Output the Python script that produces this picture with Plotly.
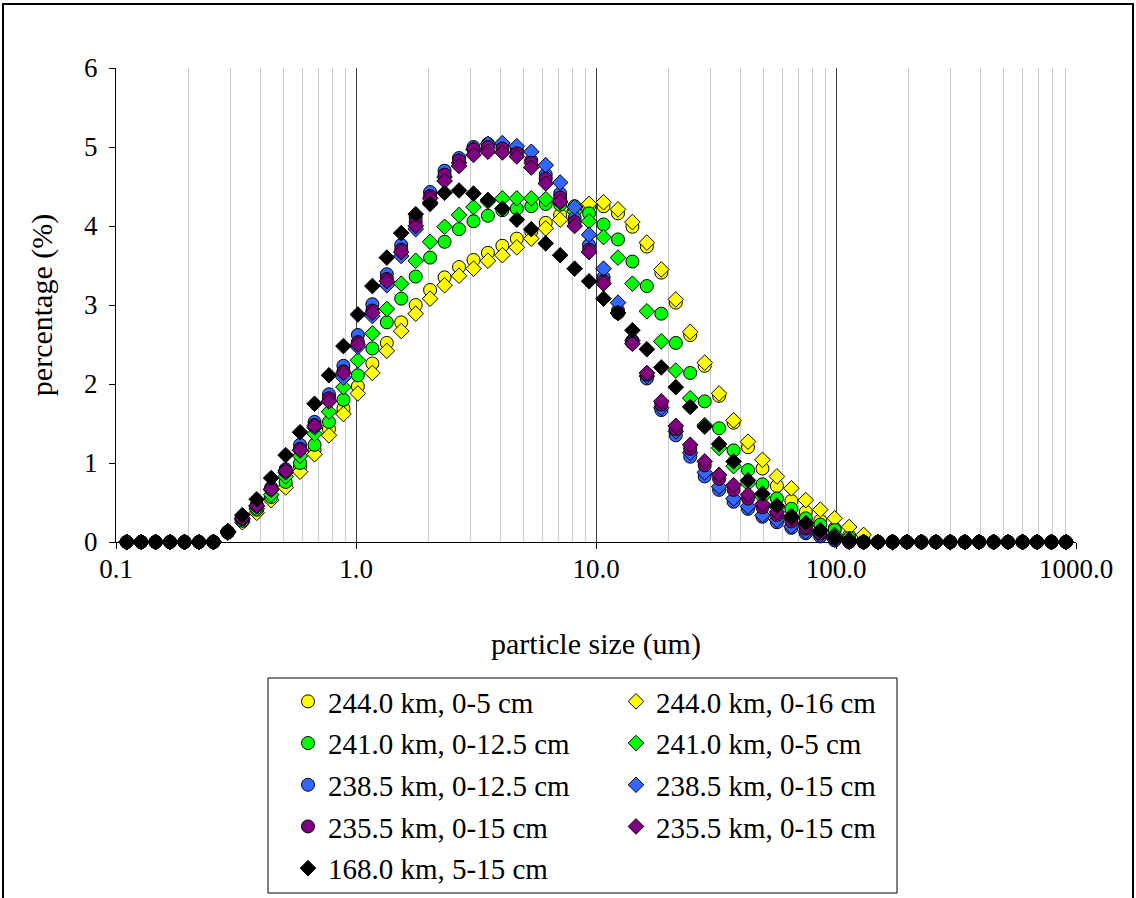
import plotly.graph_objects as go

# particle size bins (um)
sizes_um = [0.1108, 0.1273, 0.1462, 0.1679, 0.1929, 0.2216, 0.2546, 0.2924, 0.3359, 0.3858,
            0.4432, 0.5091, 0.5848, 0.6718, 0.7716, 0.8864, 1.018, 1.170, 1.344, 1.543,
            1.773, 2.036, 2.339, 2.687, 3.087, 3.546, 4.073, 4.678, 5.374, 6.173,
            7.091, 8.146, 9.357, 10.75, 12.35, 14.18, 16.29, 18.71, 21.50, 24.69,
            28.37, 32.58, 37.43, 42.99, 49.39, 56.73, 65.17, 74.86, 85.99, 98.77,
            113.5, 130.3, 149.7, 172.0, 197.5, 226.9, 260.7, 299.4, 343.9, 395.1,
            453.8, 521.3, 598.9, 687.9, 790.2, 907.7]

Z7 = [0, 0, 0, 0, 0, 0, 0]
Z14 = [0] * 14

y_244_5 = Z7 + [0.12, 0.26, 0.39, 0.55, 0.72, 0.95, 1.17, 1.43, 1.69, 1.97,
                2.26, 2.52, 2.78, 3.00, 3.19, 3.35, 3.48, 3.57, 3.66, 3.75,
                3.84, 3.93, 4.04, 4.14, 4.21, 4.25, 4.25, 4.16, 3.99, 3.74,
                3.41, 3.03, 2.62, 2.23, 1.85, 1.51, 1.20, 0.93, 0.71, 0.52,
                0.38, 0.27, 0.17, 0.08, 0.02] + Z14
y_244_16 = Z7 + [0.12, 0.25, 0.37, 0.53, 0.69, 0.89, 1.11, 1.35, 1.62, 1.88,
                 2.14, 2.42, 2.67, 2.89, 3.08, 3.25, 3.37, 3.46, 3.56, 3.63,
                 3.73, 3.84, 3.97, 4.08, 4.20, 4.28, 4.30, 4.21, 4.05, 3.79,
                 3.45, 3.07, 2.66, 2.27, 1.88, 1.54, 1.27, 1.04, 0.83, 0.68,
                 0.53, 0.41, 0.30, 0.19, 0.09] + Z14
y_241_125 = Z7 + [0.12, 0.27, 0.41, 0.57, 0.76, 1.00, 1.23, 1.52, 1.80, 2.11,
                  2.45, 2.78, 3.08, 3.36, 3.60, 3.80, 3.96, 4.06, 4.13, 4.20,
                  4.22, 4.25, 4.28, 4.27, 4.25, 4.16, 4.02, 3.83, 3.55, 3.24,
                  2.89, 2.52, 2.14, 1.78, 1.44, 1.16, 0.91, 0.73, 0.55, 0.42,
                  0.30, 0.22, 0.15, 0.05, 0.00] + Z14
y_241_5 = Z7 + [0.12, 0.28, 0.42, 0.60, 0.83, 1.09, 1.37, 1.65, 1.96, 2.30,
                2.64, 2.95, 3.27, 3.56, 3.80, 3.99, 4.14, 4.24, 4.31, 4.35,
                4.35, 4.35, 4.34, 4.30, 4.18, 4.06, 3.86, 3.60, 3.27, 2.92,
                2.54, 2.17, 1.82, 1.48, 1.19, 0.96, 0.74, 0.57, 0.44, 0.33,
                0.23, 0.15, 0.09, 0.03, 0.00] + Z14
y_2385_125 = Z7 + [0.13, 0.31, 0.47, 0.69, 0.92, 1.23, 1.52, 1.87, 2.23, 2.62,
                   3.01, 3.39, 3.76, 4.11, 4.43, 4.70, 4.86, 5.00, 5.04, 5.03,
                   4.96, 4.83, 4.65, 4.41, 4.10, 3.76, 3.35, 2.93, 2.55, 2.07,
                   1.67, 1.35, 1.08, 0.83, 0.66, 0.51, 0.42, 0.32, 0.25, 0.18,
                   0.11, 0.07, 0.02, 0.00, 0.00] + Z14
y_2385_15 = Z7 + [0.13, 0.30, 0.45, 0.66, 0.88, 1.16, 1.45, 1.78, 2.08, 2.47,
                  2.86, 3.25, 3.62, 3.96, 4.30, 4.62, 4.80, 4.97, 5.04, 5.05,
                  5.01, 4.94, 4.77, 4.55, 4.24, 3.89, 3.46, 3.03, 2.55, 2.10,
                  1.70, 1.40, 1.13, 0.88, 0.70, 0.55, 0.45, 0.34, 0.28, 0.20,
                  0.13, 0.09, 0.03, 0.00, 0.00] + Z14
y_2355_15a = Z7 + [0.13, 0.30, 0.46, 0.67, 0.90, 1.18, 1.48, 1.82, 2.16, 2.53,
                   2.93, 3.33, 3.70, 4.05, 4.38, 4.65, 4.83, 4.97, 5.00, 4.98,
                   4.92, 4.80, 4.60, 4.36, 4.05, 3.70, 3.30, 2.90, 2.52, 2.12,
                   1.74, 1.43, 1.18, 0.97, 0.80, 0.66, 0.55, 0.44, 0.34, 0.26,
                   0.17, 0.11, 0.05, 0.00, 0.00] + Z14
y_2355_15b = Z7 + [0.13, 0.30, 0.46, 0.67, 0.90, 1.16, 1.47, 1.78, 2.14, 2.50,
                   2.90, 3.30, 3.67, 4.00, 4.35, 4.57, 4.76, 4.90, 4.94, 4.93,
                   4.88, 4.74, 4.54, 4.31, 4.00, 3.67, 3.27, 2.90, 2.51, 2.14,
                   1.78, 1.47, 1.23, 1.02, 0.85, 0.72, 0.60, 0.48, 0.38, 0.30,
                   0.20, 0.14, 0.07, 0.01, 0.00] + Z14
y_168_515 = Z7 + [0.14, 0.34, 0.54, 0.81, 1.10, 1.39, 1.75, 2.11, 2.48, 2.88,
                  3.24, 3.60, 3.91, 4.15, 4.28, 4.42, 4.45, 4.41, 4.33, 4.22,
                  4.08, 3.96, 3.78, 3.63, 3.46, 3.30, 3.08, 2.90, 2.68, 2.44,
                  2.21, 1.96, 1.71, 1.46, 1.24, 1.02, 0.78, 0.61, 0.46, 0.32,
                  0.24, 0.14, 0.05, 0.02, 0.00] + Z14

series_names = ["244.0 km, 0-5 cm", "244.0 km, 0-16 cm",
                "241.0 km, 0-12.5 cm", "241.0 km, 0-5 cm",
                "238.5 km, 0-12.5 cm", "238.5 km, 0-15 cm",
                "235.5 km, 0-15 cm", "235.5 km, 0-15 cm",
                "168.0 km, 5-15 cm"]
series_values = [y_244_5, y_244_16, y_241_125, y_241_5, y_2385_125, y_2385_15,
                 y_2355_15a, y_2355_15b, y_168_515]
series_colors = ["#FFFF00", "#FFFF00", "#00FF00", "#00FF00", "#3366FF", "#3366FF",
                 "#800080", "#800080", "#000000"]
series_symbols = ["circle", "diamond", "circle", "diamond", "circle", "diamond",
                  "circle", "diamond", "diamond"]
series_legend = ["legend", "legend2", "legend", "legend2", "legend", "legend2",
                 "legend", "legend2", "legend"]

x_tickvals = [0.1, 1, 10, 100, 1000]
x_ticktext = ["0.1", "1.0", "10.0", "100.0", "1000.0"]
minor_mult = [2, 3, 4, 5, 6, 7, 8, 9]
minor_vals = [m * d for d in [0.1, 1, 10, 100] for m in minor_mult]

FONT = "Liberation Serif, Times New Roman, serif"
FS_TICK = 27
FS_TITLE = 30
FS_LEG = 29

fig = go.Figure()
for i, (nm, vals, col, sym, leg) in enumerate(zip(series_names, series_values, series_colors,
                                                   series_symbols, series_legend)):
    fig.add_trace(go.Scatter(
        x=sizes_um, y=vals, mode="markers", name=nm,
        legend=leg, legendgroup="g%d" % i, cliponaxis=False,
        marker=dict(symbol=sym, color=col, size=13 if sym == "circle" else 12,
                    line=dict(color="black", width=1)),
    ))

W, H = 1136, 898
L, R, T, B = 116, 60, 68, 356
pw, ph = W - L - R, H - T - B


def px(xp):
    return (xp - L) / pw


def py(yp):
    return (H - B - yp) / ph


leg_common = dict(xanchor="left", yanchor="top", bgcolor="rgba(0,0,0,0)", borderwidth=0,
                  traceorder="grouped", tracegroupgap=1,
                  font=dict(family=FONT, size=FS_LEG, color="black"), orientation="v")

fig.update_layout(
    width=W, height=H,
    margin=dict(l=L, r=R, t=T, b=B, pad=0, autoexpand=False),
    paper_bgcolor="white", plot_bgcolor="white",
    font=dict(family=FONT, size=FS_TICK, color="black"),
    showlegend=True,
    xaxis=dict(type="log", range=[-1, 3], tickvals=x_tickvals, ticktext=x_ticktext,
               ticks="outside", ticklen=6, tickcolor="black", tickwidth=1,
               showline=True, linecolor="black", linewidth=1,
               showgrid=True, gridcolor="#404040", gridwidth=1, zeroline=False,
               minor=dict(tickvals=minor_vals, showgrid=True, gridcolor="#cccccc", gridwidth=1, ticks=""),
               ticklabelstandoff=-3, layer="below traces",
               title=dict(text="particle size (um)", standoff=49, font=dict(family=FONT, size=FS_TITLE))),
    yaxis=dict(range=[0, 6], tick0=0, dtick=1, ticks="outside", ticklen=6, tickcolor="black",
               showline=True, linecolor="black", linewidth=1, showgrid=False, zeroline=False,
               ticklabelstandoff=6, layer="below traces",
               title=dict(text="percentage (%)", standoff=22, font=dict(family=FONT, size=FS_TITLE))),
    legend=dict(x=px(288), y=py(676), **leg_common),
    legend2=dict(x=px(616), y=py(676), **leg_common),
    shapes=[
        dict(type="rect", xref="paper", yref="paper", x0=px(268), x1=px(897), y0=py(893), y1=py(678),
             line=dict(color="black", width=1), fillcolor="rgba(0,0,0,0)", layer="below"),
        dict(type="rect", xref="paper", yref="paper", x0=px(3), x1=px(1133), y0=py(910), y1=py(4),
             line=dict(color="black", width=2), fillcolor="rgba(0,0,0,0)", layer="below"),
    ],
)

fig.write_html("out.html", config={"displayModeBar": False},
               post_script="document.body.style.margin='0';document.body.style.overflow='hidden';")
